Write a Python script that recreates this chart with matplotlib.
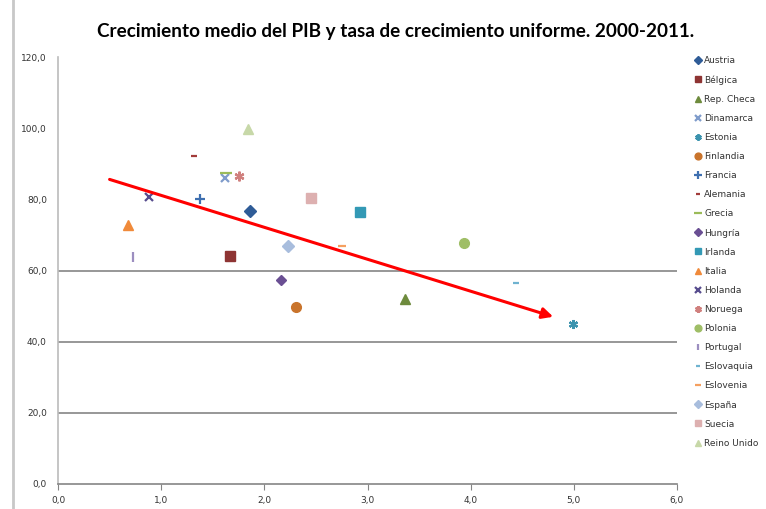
import matplotlib
matplotlib.use('Agg')
import matplotlib.pyplot as plt
from matplotlib.lines import Line2D

# Datos: crecimiento medio del PIB (x) y tasa de crecimiento uniforme (y)
paises = ['Austria', 'Bélgica', 'Rep. Checa', 'Dinamarca', 'Estonia', 'Finlandia',
          'Francia', 'Alemania', 'Grecia', 'Hungría', 'Irlanda', 'Italia', 'Holanda',
          'Noruega', 'Polonia', 'Portugal', 'Eslovaquia', 'Eslovenia', 'España',
          'Suecia', 'Reino Unido']
crec_pib = [1.86, 1.67, 3.36, 1.62, 4.99, 2.31, 1.38, 1.32, 1.63, 2.16, 2.93,
            0.68, 0.88, 1.75, 3.94, 0.73, 4.44, 2.75, 2.23, 2.45, 1.84]
tasa_unif = [76.8, 64.0, 52.0, 86.0, 45.1, 49.7, 80.1, 92.1, 87.4, 57.3, 76.5,
             72.8, 80.7, 86.6, 67.6, 63.8, 56.4, 66.9, 66.9, 80.3, 99.7]

# Flecha de tendencia (inicio y fin)
tend_x = [0.50, 4.80]
tend_y = [85.6, 47.0]

y_ticks = [0, 20, 40, 60, 80, 100, 120]
x_ticks = [0, 1, 2, 3, 4, 5, 6]
lineas_grid = [20, 40, 60]

# estilo de cada serie (marcador, color, tamaño)
estilos = [
    ('D', '#2F5C97', 6),
    ('s', '#8E3433', 6.5),
    ('^', '#6E8B3D', 6.5),
    ('x', '#7F9CCB', 5.5),
    ((6, 2, 0), '#3C93AE', 6.5),
    ('o', '#C9742C', 7),
    ('+', '#3E6FB0', 7.5),
    ('_', '#A23B3A', 5),
    ('_', '#9BBB59', 9),
    ('D', '#6A4F93', 5.5),
    ('s', '#3399B5', 6.5),
    ('^', '#F08A3A', 7),
    ('x', '#574D8E', 6),
    ((6, 2, 0), '#D0807E', 7),
    ('o', '#9FBE66', 7),
    ('|', '#9C8EC0', 7),
    ('_', '#6FB3D0', 5),
    ('_', '#F5A060', 6),
    ('D', '#A8BDDD', 6),
    ('s', '#DDB0B0', 6.5),
    ('^', '#C7D8A8', 7),
]

fig = plt.figure(figsize=(7.66, 5.09), dpi=100)
ax = fig.add_axes([58/766, 1-484/509, (677-58)/766, (484-57)/509])

handles = []
for nombre, x, y, (m, c, s) in zip(paises, crec_pib, tasa_unif, estilos):
    mew = 1.6 if m in ['x', '+', '_', '|', (6, 2, 0)] else 1
    h, = ax.plot([x], [y], linestyle='none', marker=m, color=c, markersize=s,
                 markeredgewidth=mew, label=nombre, zorder=3)
    handles.append(h)

for g in lineas_grid:
    ax.axhline(g, color='#858585', lw=1.2, zorder=1)

ax.annotate('', xy=(tend_x[1], tend_y[1]), xytext=(tend_x[0], tend_y[0]),
            arrowprops=dict(arrowstyle='-|>', color='#FF0000', lw=2.2,
                            mutation_scale=16, shrinkA=0, shrinkB=0), zorder=4)

ax.set_xlim(0, 6)
ax.set_ylim(0, 120)
ax.set_xticks(x_ticks)
ax.set_yticks(y_ticks)
ax.set_xticklabels([f'{v:.1f}'.replace('.', ',') for v in x_ticks])
ax.set_yticklabels([f'{v:.1f}'.replace('.', ',') for v in y_ticks])
ax.tick_params(axis='both', labelsize=6.5, colors='#333333')
ax.tick_params(axis='y', length=0, pad=8)
ax.tick_params(axis='x', length=4, color='#858585', pad=5)
for lado in ['top', 'right']:
    ax.spines[lado].set_visible(False)
ax.spines['left'].set_color('#BBBBBB')
ax.spines['left'].set_linewidth(1.2)
ax.spines['bottom'].set_color('#858585')
ax.spines['bottom'].set_linewidth(1.2)

# borde gris a la izquierda de la captura
fig.add_artist(Line2D([13/766, 13/766], [0, 1], color='#C8C8C8', lw=2,
                      transform=fig.transFigure))

fig.text(396/766, 1-31/509, 'Crecimiento medio del PIB y tasa de crecimiento uniforme. 2000-2011.',
         ha='center', va='center', fontsize=13.6, fontweight='bold', family='Lato')

fig.legend(handles=handles, loc='upper left', bbox_to_anchor=(694/766, 1-56/509),
           frameon=False, fontsize=6.5, handlelength=0.9, handletextpad=0.25,
           labelspacing=1.12, markerscale=0.7, borderaxespad=0, borderpad=0,
           labelcolor='#333333')

fig.savefig('out.png', dpi=100)
